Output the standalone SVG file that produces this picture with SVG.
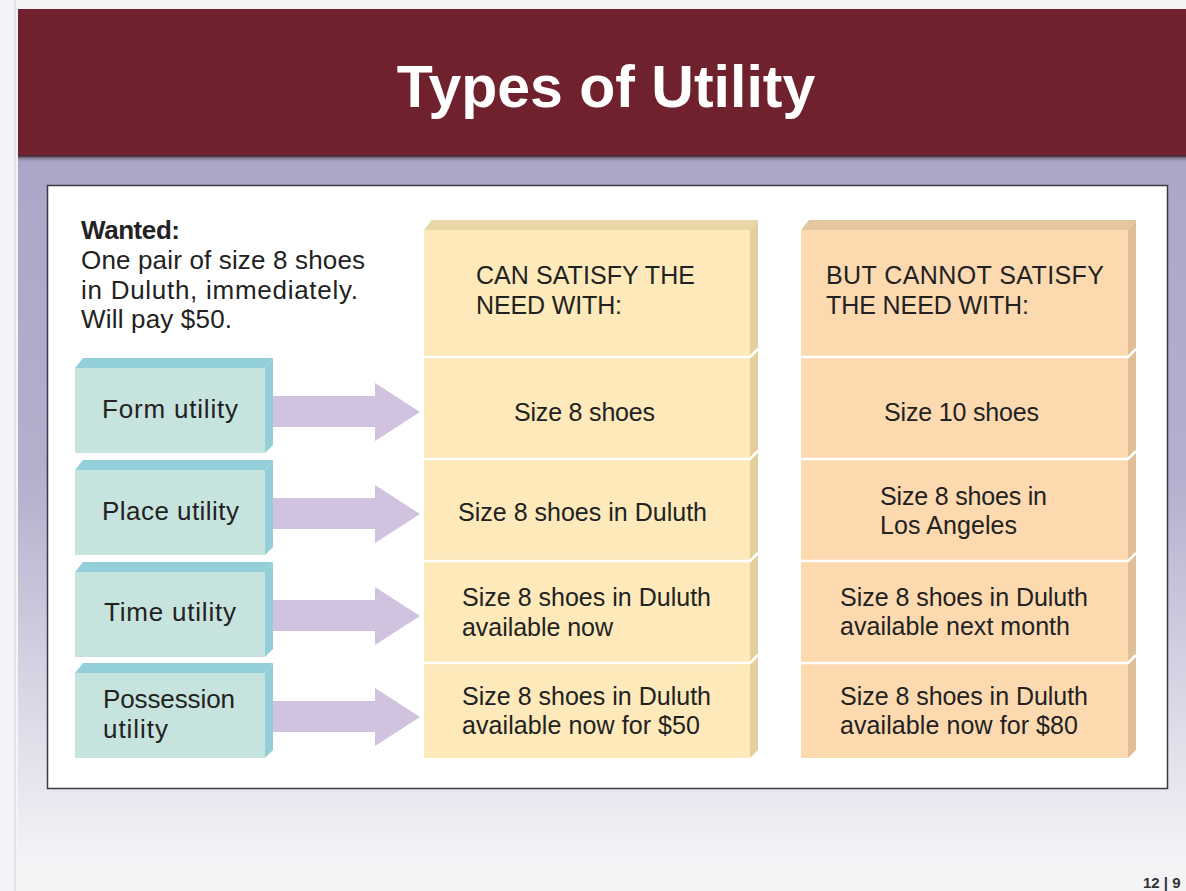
<svg xmlns="http://www.w3.org/2000/svg" width="1186" height="891" viewBox="0 0 1186 891">
  <defs>
    <linearGradient id="lav" x1="0" y1="160" x2="0" y2="860" gradientUnits="userSpaceOnUse">
      <stop offset="0" stop-color="#aba7c8"/>
      <stop offset="0.45" stop-color="#b3afcd"/>
      <stop offset="0.8" stop-color="#dddbe8"/>
      <stop offset="1" stop-color="#f3f3f7"/>
    </linearGradient>
    <linearGradient id="shade" x1="0" y1="155" x2="0" y2="163" gradientUnits="userSpaceOnUse">
      <stop offset="0" stop-color="#3b2430"/>
      <stop offset="1" stop-color="#aba7c8" stop-opacity="0"/>
    </linearGradient>
    <style>
      .t { font-family: "Liberation Sans", Arial, sans-serif; font-size: 25px; fill: #222; }
      .l { font-size: 26px; }
      .b { font-weight: bold; }
      .mid { text-anchor: middle; }
      .tealF { fill: #c7e3de; }
      .tealB { fill: #92cfd8; }
      .yelF { fill: #fde9b9; }
      .yelT { fill: #e9d7a8; }
      .yelS { fill: #e4d09c; }
      .pchF { fill: #fdd9b0; }
      .pchT { fill: #e4c6a0; }
      .pchS { fill: #e0bf96; }
      .div { stroke: #ffffff; stroke-width: 2.5; fill: none; }
      .arrow { fill: #d1c2e0; }
    </style>
  </defs>

  <!-- page background -->
  <rect x="0" y="0" width="1186" height="891" fill="#f4f4f7"/>
  <line x1="15" y1="0" x2="15" y2="891" stroke="#e4e4ea" stroke-width="2"/>
  <rect x="18" y="157" width="1168" height="700" fill="url(#lav)"/>

  <!-- title banner -->
  <rect x="18" y="9" width="1168" height="148" fill="#6f222e"/>
  <rect x="18" y="155" width="1168" height="8" fill="url(#shade)"/>
  <text x="606" y="107" class="b mid" font-family="Liberation Sans, Arial, sans-serif" font-size="59" fill="#ffffff">Types of Utility</text>

  <!-- content panel -->
  <rect x="47.5" y="185.5" width="1120" height="603" fill="#ffffff" stroke="#3a3a44" stroke-width="1.5"/>

  <!-- wanted note -->
  <g id="wanted">
    <text x="81" y="239" class="t l b" textLength="99">Wanted:</text>
    <text x="81" y="269" class="t l" textLength="284">One pair of size 8 shoes</text>
    <text x="81" y="299" class="t l" textLength="277">in Duluth, immediately.</text>
    <text x="81" y="328" class="t l" textLength="151">Will pay $50.</text>
  </g>

  <!-- utility boxes -->
  <g id="form-utility">
    <polygon class="tealB" points="75,368 83,358 273,358 265,368"/>
    <polygon class="tealB" points="265,368 273,358 273,445 265,453"/>
    <rect class="tealF" x="75" y="368" width="190" height="85"/>
    <text x="102" y="418" class="t l" textLength="136">Form utility</text>
  </g>
  <g id="place-utility">
    <polygon class="tealB" points="75,470 83,460 273,460 265,470"/>
    <polygon class="tealB" points="265,470 273,460 273,547 265,555"/>
    <rect class="tealF" x="75" y="470" width="190" height="85"/>
    <text x="102" y="520" class="t l" textLength="137">Place utility</text>
  </g>
  <g id="time-utility">
    <polygon class="tealB" points="75,572 83,562 273,562 265,572"/>
    <polygon class="tealB" points="265,572 273,562 273,649 265,657"/>
    <rect class="tealF" x="75" y="572" width="190" height="85"/>
    <text x="104" y="621" class="t l" textLength="132">Time utility</text>
  </g>
  <g id="possession-utility">
    <polygon class="tealB" points="75,673 83,663 273,663 265,673"/>
    <polygon class="tealB" points="265,673 273,663 273,750 265,758"/>
    <rect class="tealF" x="75" y="673" width="190" height="85"/>
    <text x="103" y="708" class="t l" textLength="132">Possession</text>
    <text x="103" y="738" class="t l" textLength="65">utility</text>
  </g>

  <!-- connectors -->
  <g id="connectors">
    <polygon class="arrow" points="273,396 375,396 375,383 420,412 375,441 375,427 273,427"/>
    <polygon class="arrow" points="273,498 375,498 375,485 420,514 375,543 375,529 273,529"/>
    <polygon class="arrow" points="273,600 375,600 375,587 420,616 375,645 375,631 273,631"/>
    <polygon class="arrow" points="273,701 375,701 375,688 420,717 375,746 375,732 273,732"/>
  </g>

  <!-- "can satisfy" column -->
  <g id="can-satisfy">
    <polygon class="yelT" points="424,230 432,220 758,220 750,230"/>
    <polygon class="yelS" points="750,230 758,220 758,750 750,758"/>
    <rect class="yelF" x="424" y="230" width="326" height="528"/>
    <path class="div" d="M424,357 H750 L758,349 M424,459 H750 L758,451 M424,561 H750 L758,553 M424,663 H750 L758,655"/>
    <text x="476" y="284" class="t" textLength="219">CAN SATISFY THE</text>
    <text x="476" y="314" class="t" textLength="146">NEED WITH:</text>
    <text x="514" y="421" class="t" textLength="141">Size 8 shoes</text>
    <text x="458" y="521" class="t" textLength="249">Size 8 shoes in Duluth</text>
    <text x="462" y="606" class="t" textLength="249">Size 8 shoes in Duluth</text>
    <text x="462" y="636" class="t" textLength="151">available now</text>
    <text x="462" y="705" class="t" textLength="249">Size 8 shoes in Duluth</text>
    <text x="462" y="734" class="t" textLength="238">available now for $50</text>
  </g>

  <!-- "cannot satisfy" column -->
  <g id="cannot-satisfy">
    <polygon class="pchT" points="801,230 809,220 1136,220 1128,230"/>
    <polygon class="pchS" points="1128,230 1136,220 1136,750 1128,758"/>
    <rect class="pchF" x="801" y="230" width="327" height="528"/>
    <path class="div" d="M801,357 H1128 L1136,349 M801,459 H1128 L1136,451 M801,561 H1128 L1136,553 M801,663 H1128 L1136,655"/>
    <text x="826" y="284" class="t" textLength="278">BUT CANNOT SATISFY</text>
    <text x="826" y="314" class="t" textLength="203">THE NEED WITH:</text>
    <text x="884" y="421" class="t" textLength="155">Size 10 shoes</text>
    <text x="880" y="505" class="t" textLength="167">Size 8 shoes in</text>
    <text x="880" y="534" class="t" textLength="137">Los Angeles</text>
    <text x="840" y="606" class="t" textLength="248">Size 8 shoes in Duluth</text>
    <text x="840" y="635" class="t" textLength="230">available next month</text>
    <text x="840" y="705" class="t" textLength="248">Size 8 shoes in Duluth</text>
    <text x="840" y="734" class="t" textLength="238">available now for $80</text>
  </g>

  <!-- slide number -->
  <text x="1143" y="888" font-family="Liberation Sans, Arial, sans-serif" font-size="15" font-weight="bold" fill="#333">12 | 9</text>
</svg>
